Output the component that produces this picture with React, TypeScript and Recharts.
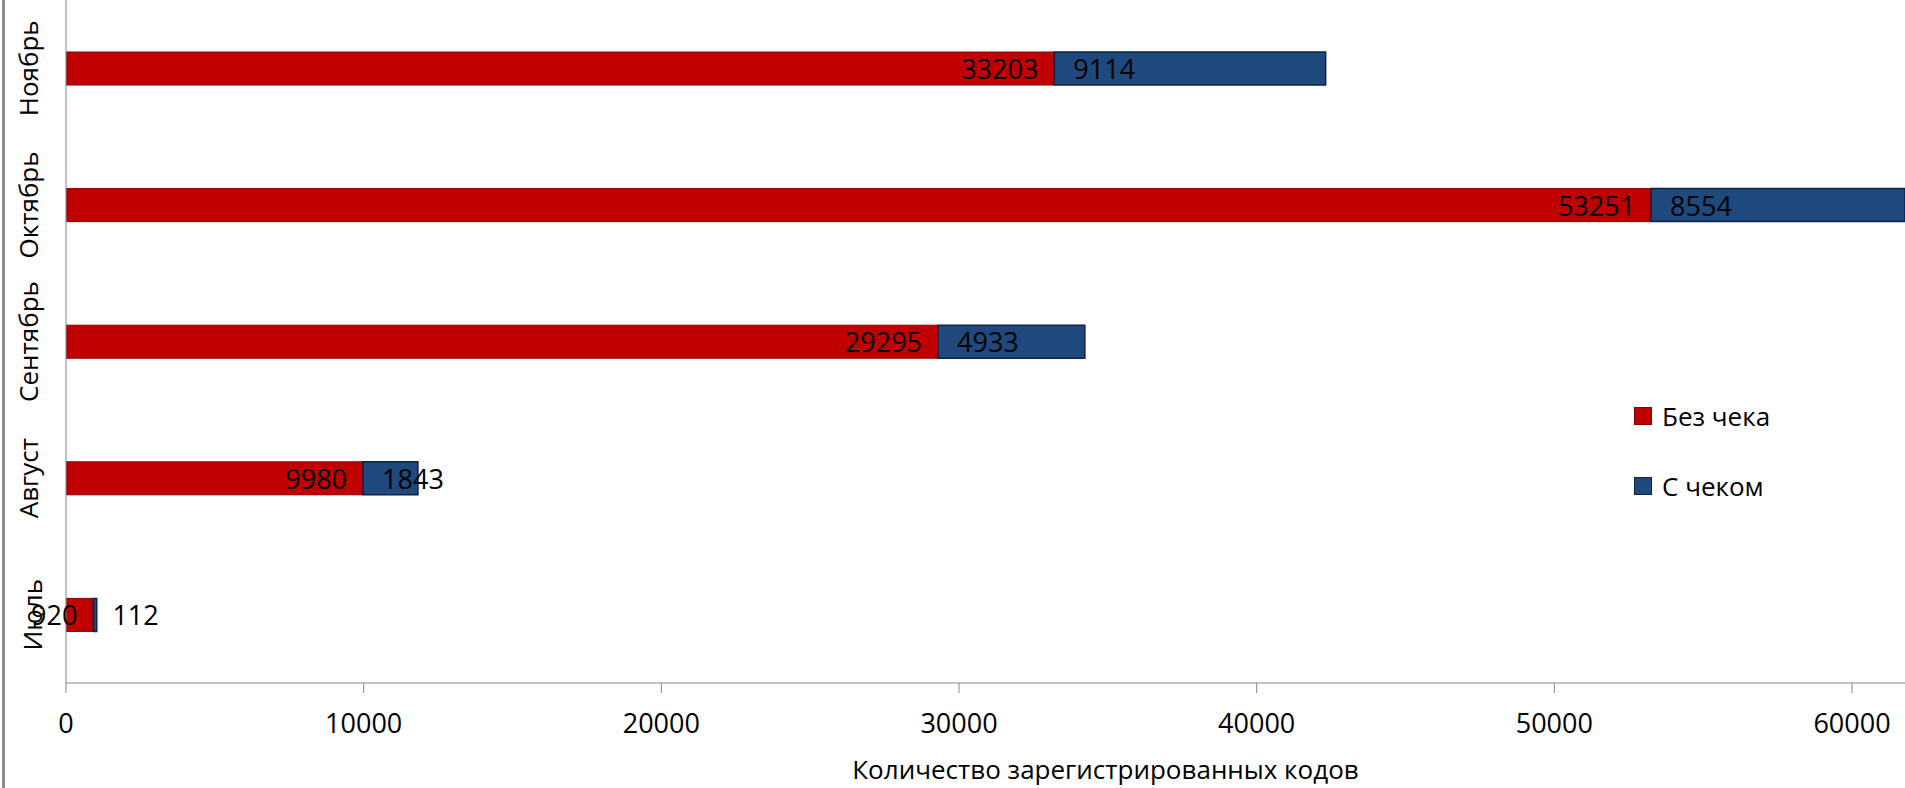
import {
  BarChart, Bar, XAxis, YAxis, Legend, LabelList,
} from 'recharts';

const months = ['Июль', 'Август', 'Сентябрь', 'Октябрь', 'Ноябрь'];
const withoutReceipt = [920, 9980, 29295, 53251, 33203];
const withReceipt = [112, 1843, 4933, 8554, 9114];
const xTicks = [0, 10000, 20000, 30000, 40000, 50000, 60000];

const FONT = '"Open Sans", sans-serif';
const RED = '#c00000';
const BLUE = '#1f497d';

const data = months.map((m, i) => ({
  month: m,
  noReceipt: withoutReceipt[i],
  receipt: withReceipt[i],
}));

const YTick = ({ y, payload }: any) => {
  const cx = payload.value === 'Июль' ? 32 : 28;
  return (
    <text
      x={cx}
      y={y}
      transform={`rotate(-90, ${cx}, ${y})`}
      textAnchor="middle"
      dominantBaseline="central"
      fontSize={26}
      fontFamily={FONT}
      fill="#000"
    >
      {payload.value}
    </text>
  );
};

const EndLabel = ({ x, y, width, height, value }: any) => (
  <text
    x={x + width - 16}
    y={y + height / 2}
    textAnchor="end"
    dominantBaseline="central"
    fontSize={27}
    fontFamily={FONT}
    fill="#000"
  >
    {value}
  </text>
);

const StartLabel = ({ x, y, height, value }: any) => (
  <text
    x={x + 19}
    y={y + height / 2}
    textAnchor="start"
    dominantBaseline="central"
    fontSize={27}
    fontFamily={FONT}
    fill="#000"
  >
    {value}
  </text>
);

const LegendBox = ({ payload }: any) => (
  <div style={{ fontFamily: FONT, fontSize: 26, color: '#000' }}>
    {(payload ?? []).map((p: any, i: number) => (
      <div key={i} style={{ display: 'flex', alignItems: 'center', height: 36, marginBottom: 34 }}>
        <span
          style={{
            display: 'inline-block',
            width: 16,
            height: 16,
            background: p.color,
            border: `1px solid ${i === 0 ? '#8b0000' : '#0b2447'}`,
            marginRight: 10,
          }}
        />
        {p.value}
      </div>
    ))}
  </div>
);

export default function App() {
  return (
    <div style={{ position: 'absolute', left: 0, top: 0, width: 1905, height: 788, background: '#fff' }}>
      <div style={{ position: 'absolute', left: 2, top: 0, width: 3, height: 788, background: '#8c8c8c' }} />
      <BarChart
        width={1905}
        height={788}
        data={data}
        layout="vertical"
        barSize={33}
        margin={{ top: 0, right: 0, bottom: 0, left: 0 }}
      >
        <XAxis
          type="number"
          domain={[0, 61780]}
          allowDataOverflow
          ticks={xTicks}
          height={105}
          stroke="#868686"
          tickSize={10}
          tickMargin={21}
          tick={{ fill: '#000', fontSize: 27, fontFamily: FONT }}
          label={{
            value: 'Количество зарегистрированных кодов',
            position: 'insideBottom',
            offset: 9,
            dx: 120,
            fill: '#000',
            fontSize: 26,
            fontFamily: FONT,
          }}
        />
        <YAxis
          type="category"
          dataKey="month"
          reversed
          width={66}
          stroke="#868686"
          tickLine={false}
          tick={<YTick />}
        />
        <Legend
          layout="vertical"
          align="center"
          verticalAlign="middle"
          wrapperStyle={{ left: 1634, top: 398, width: 220 }}
          content={<LegendBox />}
        />
        <Bar dataKey="noReceipt" name="Без чека" stackId="a" fill={RED} stroke="#8b0000" strokeWidth={1} isAnimationActive={false}>
          <LabelList dataKey="noReceipt" content={<EndLabel />} />
        </Bar>
        <Bar dataKey="receipt" name="С чеком" stackId="a" fill={BLUE} stroke="#0b2447" strokeWidth={1.5} isAnimationActive={false}>
          <LabelList dataKey="receipt" content={<StartLabel />} />
        </Bar>
      </BarChart>
    </div>
  );
}
